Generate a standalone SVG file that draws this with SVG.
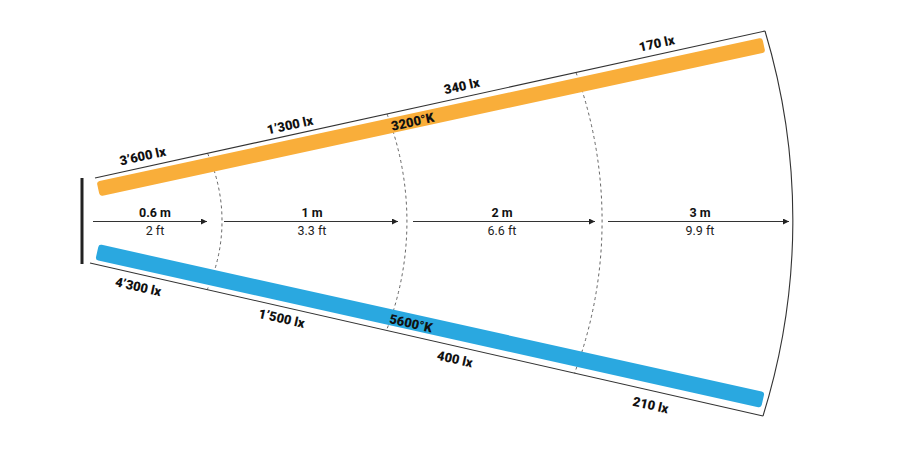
<svg xmlns="http://www.w3.org/2000/svg" width="900" height="450" viewBox="0 0 900 450">
<defs>
<style>
.thin{fill:none;stroke:#333;stroke-width:1.1}
.arc{fill:none;stroke:#555;stroke-width:0.9;stroke-dasharray:3 3}
.axis{fill:none;stroke:#333;stroke-width:1;marker-end:url(#ah)}
.lx{font-family:Roboto,"Liberation Sans",sans-serif;font-weight:900;font-size:13px;fill:#111;text-anchor:middle}
.m{font-family:Roboto,"Liberation Sans",sans-serif;font-weight:700;font-size:12.5px;fill:#111;text-anchor:middle}
.ft{font-family:Roboto,"Liberation Sans",sans-serif;font-weight:400;font-size:12.5px;fill:#222;text-anchor:middle}
</style>
<marker id="ah" markerUnits="userSpaceOnUse" markerWidth="8" markerHeight="8" refX="6" refY="3" orient="auto">
<path d="M0,0 L6,3 L0,6 Z" fill="#222"/>
</marker>
</defs>
<rect width="900" height="450" fill="#fff"/>
<g id="connectors">
<path class="arc" d="M207.6,153.4 A166,166 0 0 1 207.2,289.6"/>
<path class="arc" d="M387,114 A300,300 0 0 1 386.5,330.3"/>
<path class="arc" d="M576,72.5 A435,435 0 0 1 574.5,373.3"/>
<path class="thin" d="M765,31 A657,657 0 0 1 763,416"/>
<path class="thin" d="M95,178 L765,31"/>
<path class="thin" d="M90,263 L763,416"/>
<path class="axis" d="M93,221.5 L207,221.5"/>
<path class="axis" d="M224,221.5 L398,221.5"/>
<path class="axis" d="M413,221.5 L595,221.5"/>
<path class="axis" d="M608,221.5 L789,221.5"/>
</g>
<g id="source"><rect x="80.5" y="178" width="3" height="86" fill="#222"/></g>
<g id="bar-3200">
<rect x="-340.5" y="-7.5" width="681" height="15" rx="3" fill="#F9AE3A" transform="translate(431,117) rotate(-12.2)"/>
<text class="lx" transform="translate(412.7,121.7) rotate(-12.3)" y="4.6">3200°K</text>
</g>
<g id="bar-5600">
<rect x="-341" y="-8" width="682" height="16" rx="3" fill="#2AA8E0" transform="translate(430,326) rotate(12.53)"/>
<text class="lx" transform="translate(411,323.3) rotate(12.6)" y="4.6">5600°K</text>
</g>
<g id="labels-top">
<text class="lx" transform="translate(142.7,156) rotate(-12.3)" y="4.6">3’600 lx</text>
<text class="lx" transform="translate(290,125) rotate(-12.3)" y="4.6">1’300 lx</text>
<text class="lx" transform="translate(461.7,86) rotate(-12.3)" y="4.6">340 lx</text>
<text class="lx" transform="translate(656.7,43.3) rotate(-12.3)" y="4.6">170 lx</text>
</g>
<g id="labels-bottom">
<text class="lx" transform="translate(138.3,286.7) rotate(12.6)" y="4.6">4’300 lx</text>
<text class="lx" transform="translate(281.7,318.3) rotate(12.6)" y="4.6">1’500 lx</text>
<text class="lx" transform="translate(455,359) rotate(12.6)" y="4.6">400 lx</text>
<text class="lx" transform="translate(650.7,405) rotate(12.6)" y="4.6">210 lx</text>
</g>
<g id="dist-06"><text class="m" x="155" y="217">0.6 m</text><text class="ft" x="155" y="235">2 ft</text></g>
<g id="dist-1"><text class="m" x="312" y="217">1 m</text><text class="ft" x="312" y="235">3.3 ft</text></g>
<g id="dist-2"><text class="m" x="502" y="217">2 m</text><text class="ft" x="502" y="235">6.6 ft</text></g>
<g id="dist-3"><text class="m" x="700" y="217">3 m</text><text class="ft" x="700" y="235">9.9 ft</text></g>
</svg>
